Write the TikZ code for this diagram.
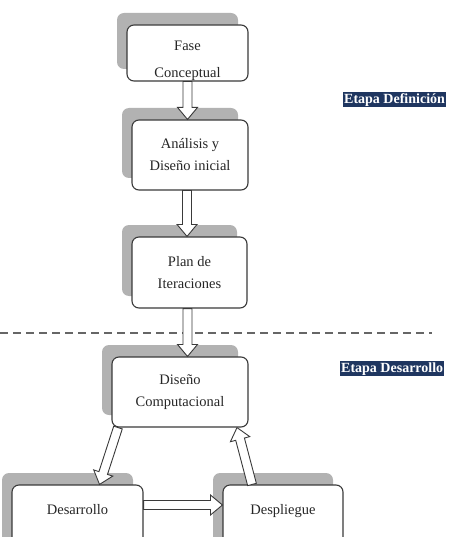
\documentclass[tikz,border=0pt]{standalone}
\usepackage{fontspec}
\setmainfont{Liberation Serif}
\usetikzlibrary{calc,shadows,positioning}
\definecolor{etapacolor}{HTML}{1F3660}
\definecolor{bordecolor}{HTML}{3A3A3A}

% flecha hueca de un punto a otro
\newcommand{\flechagruesa}[2]{%
	\draw[flecha] let \p1 = (#1), \p2 = (#2),
		\n1 = {atan2(\y2-\y1,\x2-\x1)}, \n2 = {veclen(\x2-\x1,\y2-\y1)} in
		[shift={(\p1)}, rotate=\n1]
		(0pt,-4.5pt) -- (\n2-12pt,-4.5pt) -- (\n2-12pt,-10pt) -- (\n2+0pt,0pt)
		-- (\n2-12pt,10pt) -- (\n2-12pt,4.5pt) -- (0pt,4.5pt) -- cycle;
}

\tikzset{
	caja/.style={draw=bordecolor, line width=1.1pt, rounded corners=7pt, fill=white,
		align=center, font=\fontsize{14.5}{22}\selectfont, text=black!85, inner sep=2pt,
		general shadow={fill=black!30, shadow xshift=-10pt, shadow yshift=12pt}},
	texto/.style={align=center, font=\fontsize{14.5}{27}\selectfont, text=black!85},
	etapa/.style={fill=etapacolor, text=white, font=\fontsize{14}{16}\selectfont\bfseries,
		inner sep=1pt, text height=10pt, text depth=3pt, anchor=west},
	flecha/.style={draw=bordecolor, fill=white, line width=0.9pt, line join=miter},
	corte/.style={draw=black!60, line width=1.3pt, dash pattern=on 8pt off 5pt}
}

\begin{document}
\begin{tikzpicture}[x=1pt, y=-1pt]
	\useasboundingbox (0,0) rectangle (450,537);
	\clip (0,0) rectangle (450,537);
	
	% etapa definicion
	\node at (187.5,53) [caja, minimum width=121pt, minimum height=56pt] (fase) {};
	\begin{scope}
		\clip ([shift={(1pt,1pt)}]fase.south west) rectangle ([shift={(-1pt,-1pt)}]fase.north east);
		\node at ([yshift=-8pt]fase.center) [texto] (fasetxt) {Fase\\Conceptual};
	\end{scope}
	
	\node at (190,155) [caja, minimum width=116pt, minimum height=70pt] (analisis) {Análisis y\\Diseño inicial};
	\node at (189.5,272.5) [caja, minimum width=115pt, minimum height=71pt] (plan) {Plan de\\Iteraciones};
	
	\node at (343,100) [etapa] (etapadef) {Etapa Definición};
	
	\draw[corte] (0,333) -- (432,333);
	
	% etapa desarrollo
	\node at (180,392) [caja, minimum width=136pt, minimum height=70pt] (diseno) {Diseño\\Computacional};
	\node at (77.5,520) [caja, minimum width=131pt, minimum height=70pt] (desarrollo) {Desarrollo\\~};
	\node at (283,520) [caja, minimum width=120pt, minimum height=70pt] (despliegue) {Despliegue\\~};
	
	\node at (340,368.5) [etapa] (etapades) {Etapa Desarrollo};
	
	\flechagruesa{fase.south}{fase.south |- analisis.north}
	\flechagruesa{[xshift=-3pt]analisis.south}{[xshift=-3pt]analisis.south |- plan.north}
	\flechagruesa{[xshift=-2pt]plan.south}{[xshift=-2pt]plan.south |- diseno.north}
	\flechagruesa{[xshift=-62pt]diseno.south}{[xshift=22pt]desarrollo.north}
	\flechagruesa{[yshift=15pt]desarrollo.east}{[yshift=15pt]despliegue.west}
	\flechagruesa{[xshift=-31pt]despliegue.north}{[xshift=57pt]diseno.south}
\end{tikzpicture}
\end{document}
